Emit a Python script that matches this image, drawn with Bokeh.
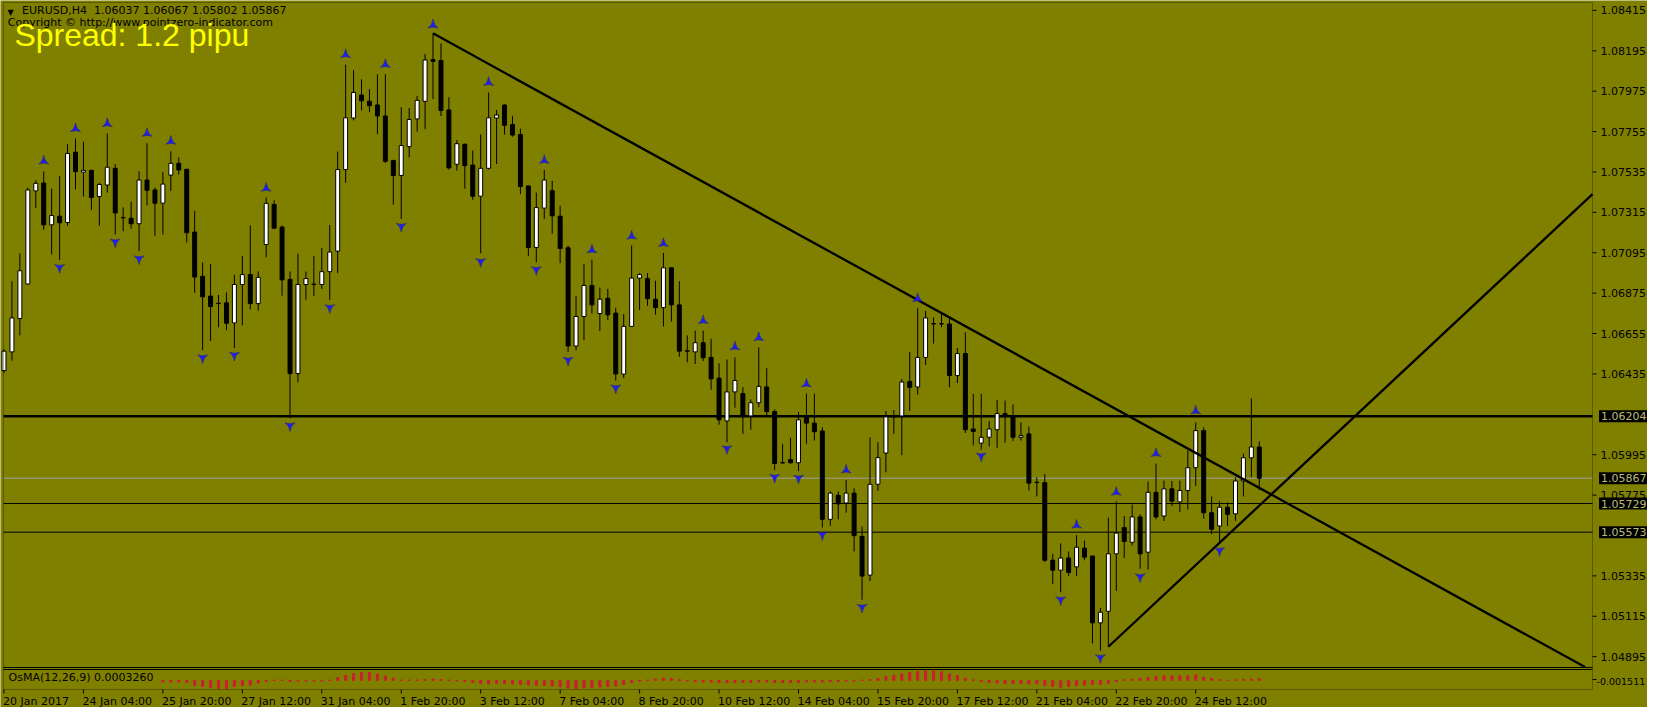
from bokeh.plotting import figure
from bokeh.models import (Range1d, Label, LabelSet, ColumnDataSource, BoxAnnotation)
from bokeh.embed import file_html
from bokeh.resources import INLINE
from bokeh.core.properties import value

# ---------------- data ----------------
opens = [1.06453, 1.06555, 1.06737, 1.06925, 1.07432, 1.07475, 1.07247, 1.07294, 1.07260, 1.07643,
         1.07534, 1.07544, 1.07401, 1.07464, 1.07555, 1.07287, 1.07283, 1.07253, 1.07491, 1.07437,
         1.07365, 1.07518, 1.07582, 1.07550, 1.07208, 1.06967, 1.06859, 1.06820, 1.06822, 1.06713,
         1.06922, 1.06976, 1.06818, 1.07140, 1.07358, 1.07235, 1.06950, 1.06437, 1.06922, 1.06924,
         1.06922, 1.06992, 1.07104, 1.07548, 1.07829, 1.07954, 1.07920, 1.07900, 1.07840, 1.07598,
         1.07516, 1.07673, 1.07824, 1.07920, 1.08147, 1.08142, 1.07873, 1.07577, 1.07686, 1.07573,
         1.07403, 1.07555, 1.07829, 1.07900, 1.07793, 1.07739, 1.07459, 1.07124, 1.07338, 1.07433,
         1.07294, 1.07122, 1.06587, 1.06748, 1.06917, 1.06764, 1.06847, 1.06766, 1.06434, 1.06694,
         1.06957, 1.06954, 1.06842, 1.06796, 1.07013, 1.06811, 1.06561, 1.06555, 1.06605, 1.06525,
         1.06412, 1.06179, 1.06337, 1.06328, 1.06206, 1.06278, 1.06364, 1.06230, 1.05950, 1.05968,
         1.05951, 1.06198, 1.06167, 1.06124, 1.05643, 1.05774, 1.05732, 1.05786, 1.05550, 1.05339,
         1.05834, 1.06004, 1.06203, 1.06206, 1.06394, 1.06364, 1.06525, 1.06709, 1.06707, 1.06707,
         1.06426, 1.06546, 1.06135, 1.06058, 1.06090, 1.06131, 1.06219, 1.06206, 1.06090, 1.06108,
         1.05845, 1.05843, 1.05420, 1.05366, 1.05432, 1.05384, 1.05486, 1.05443, 1.05079, 1.05142,
         1.05455, 1.05598, 1.05518, 1.05656, 1.05464, 1.05790, 1.05661, 1.05809, 1.05738, 1.05800,
         1.05924, 1.06126, 1.05679, 1.05607, 1.05709, 1.05673, 1.05852, 1.05978, 1.06037]
highs = [1.06569, 1.06940, 1.07092, 1.07450, 1.07489, 1.07539, 1.07444, 1.07512, 1.07686, 1.07718,
         1.07700, 1.07546, 1.07476, 1.07745, 1.07578, 1.07342, 1.07374, 1.07539, 1.07691, 1.07450,
         1.07534, 1.07648, 1.07614, 1.07551, 1.07324, 1.07042, 1.07035, 1.06865, 1.06879, 1.06976,
         1.07078, 1.07244, 1.06993, 1.07396, 1.07381, 1.07244, 1.06993, 1.07090, 1.06993, 1.07078,
         1.07122, 1.07246, 1.07646, 1.08120, 1.08090, 1.08040, 1.07986, 1.08067, 1.08067, 1.07598,
         1.07888, 1.07884, 1.07949, 1.08178, 1.08290, 1.08235, 1.07942, 1.07709, 1.07690, 1.07652,
         1.07739, 1.07968, 1.07873, 1.07902, 1.07841, 1.07771, 1.07460, 1.07423, 1.07546, 1.07487,
         1.07351, 1.07133, 1.06859, 1.07033, 1.07058, 1.06905, 1.06898, 1.06796, 1.06761, 1.07134,
         1.06984, 1.06984, 1.06943, 1.07094, 1.07015, 1.06940, 1.06645, 1.06671, 1.06671, 1.06627,
         1.06493, 1.06514, 1.06525, 1.06364, 1.06296, 1.06579, 1.06466, 1.06242, 1.06054, 1.06087,
         1.06228, 1.06328, 1.06328, 1.06144, 1.05795, 1.05795, 1.05857, 1.05813, 1.05604, 1.06090,
         1.06063, 1.06233, 1.06238, 1.06408, 1.06555, 1.06793, 1.06779, 1.06743, 1.06761, 1.06740,
         1.06576, 1.06662, 1.06326, 1.06326, 1.06179, 1.06292, 1.06290, 1.06269, 1.06171, 1.06149,
         1.05872, 1.05890, 1.05455, 1.05512, 1.05468, 1.05557, 1.05527, 1.05445, 1.05160, 1.05652,
         1.05742, 1.05661, 1.05723, 1.05670, 1.05849, 1.05947, 1.05854, 1.05852, 1.05854, 1.06018,
         1.06171, 1.06144, 1.05768, 1.05742, 1.05736, 1.05872, 1.06001, 1.06301, 1.06067]
lows = [1.06441, 1.06507, 1.06645, 1.06921, 1.07338, 1.07220, 1.07086, 1.07056, 1.07242, 1.07440,
        1.07401, 1.07328, 1.07242, 1.07423, 1.07194, 1.07212, 1.07226, 1.07104, 1.07353, 1.07187,
        1.07194, 1.07432, 1.07521, 1.07151, 1.06877, 1.06564, 1.06614, 1.06689, 1.06673, 1.06576,
        1.06700, 1.06786, 1.06779, 1.07070, 1.07226, 1.06861, 1.06194, 1.06389, 1.06839, 1.06859,
        1.06898, 1.06838, 1.06984, 1.07476, 1.07816, 1.07870, 1.07861, 1.07741, 1.07584, 1.07357,
        1.07279, 1.07614, 1.07754, 1.07768, 1.07932, 1.07840, 1.07548, 1.07542, 1.07444, 1.07383,
        1.07092, 1.07548, 1.07578, 1.07739, 1.07727, 1.07414, 1.07078, 1.07043, 1.07279, 1.07199,
        1.07038, 1.06555, 1.06564, 1.06618, 1.06764, 1.06668, 1.06729, 1.06398, 1.06412, 1.06690,
        1.06783, 1.06806, 1.06757, 1.06693, 1.06720, 1.06528, 1.06498, 1.06489, 1.06505, 1.06349,
        1.06158, 1.06063, 1.06251, 1.06108, 1.06131, 1.06254, 1.06206, 1.05911, 1.05947, 1.05947,
        1.05906, 1.06054, 1.06072, 1.05598, 1.05607, 1.05643, 1.05679, 1.05468, 1.05205, 1.05307,
        1.05798, 1.05899, 1.06108, 1.05992, 1.06233, 1.06322, 1.06484, 1.06600, 1.06689, 1.06362,
        1.06385, 1.06113, 1.06045, 1.06022, 1.06040, 1.06033, 1.06060, 1.06069, 1.06072, 1.05800,
        1.05768, 1.05410, 1.05291, 1.05246, 1.05334, 1.05335, 1.05420, 1.04967, 1.04927, 1.04949,
        1.05253, 1.05432, 1.05500, 1.05374, 1.05369, 1.05643, 1.05634, 1.05715, 1.05682, 1.05696,
        1.05825, 1.05647, 1.05562, 1.05518, 1.05607, 1.05634, 1.05768, 1.05872, 1.05802]
closes = [1.06559, 1.06740, 1.06997, 1.07437, 1.07473, 1.07247, 1.07298, 1.07258, 1.07636, 1.07537,
          1.07544, 1.07396, 1.07467, 1.07561, 1.07312, 1.07285, 1.07253, 1.07491, 1.07435, 1.07365,
          1.07469, 1.07582, 1.07546, 1.07204, 1.06963, 1.06855, 1.06802, 1.06818, 1.06711, 1.06922,
          1.06976, 1.06818, 1.06961, 1.07364, 1.07229, 1.06947, 1.06437, 1.06922, 1.06954, 1.06922,
          1.06992, 1.07099, 1.07548, 1.07830, 1.07968, 1.07923, 1.07896, 1.07840, 1.07593, 1.07516,
          1.07679, 1.07821, 1.07925, 1.08145, 1.08138, 1.07870, 1.07557, 1.07689, 1.07569, 1.07403,
          1.07555, 1.07830, 1.07845, 1.07789, 1.07736, 1.07456, 1.07124, 1.07341, 1.07491, 1.07296,
          1.07118, 1.06587, 1.06748, 1.06917, 1.06811, 1.06842, 1.06757, 1.06435, 1.06694, 1.06957,
          1.06976, 1.06845, 1.06796, 1.07013, 1.06811, 1.06559, 1.06559, 1.06605, 1.06523, 1.06408,
          1.06185, 1.06337, 1.06399, 1.06206, 1.06278, 1.06367, 1.06230, 1.05947, 1.05952, 1.05951,
          1.06185, 1.06167, 1.06120, 1.05643, 1.05786, 1.05727, 1.05786, 1.05554, 1.05334, 1.05834,
          1.05979, 1.06201, 1.06201, 1.06391, 1.06362, 1.06525, 1.06740, 1.06707, 1.06709, 1.06426,
          1.06546, 1.06131, 1.06122, 1.06090, 1.06135, 1.06219, 1.06206, 1.06090, 1.06099, 1.05840,
          1.05843, 1.05420, 1.05366, 1.05432, 1.05353, 1.05491, 1.05437, 1.05079, 1.05137, 1.05455,
          1.05568, 1.05522, 1.05656, 1.05455, 1.05790, 1.05656, 1.05809, 1.05742, 1.05800, 1.05924,
          1.06126, 1.05679, 1.05589, 1.05709, 1.05670, 1.05852, 1.05978, 1.06037, 1.05867]
bar_index = list(range(len(opens)))

# OsMA(12,26,9) histogram, bars 20..158
osma_start = 20
osma = [-0.000285, -0.000285, -0.000285, -0.00038, -0.00095, -0.00114, -0.00133, -0.00152, -0.00152, -0.00114,
        -0.00095, -0.000855, -0.000475, -0.00019, 0.000095, 0.000095, -0.00019, -0.000095, -0.000095, -0.000095,
        -0.000095, 0.000095, 0.00057, 0.00095, 0.00133, 0.00152, 0.00152, 0.001235, 0.000855, 0.000475,
        0.000095, 0.000095, 0.000095, 0.00019, 0.000285, 0.00019, 0.000095, -0.000095, -0.00019, -0.00038,
        -0.00057, -0.000665, -0.00057, -0.00057, -0.000665, -0.00076, -0.000855, -0.00095, -0.00095, -0.001045,
        -0.001235, -0.001425, -0.00152, -0.001425, -0.00133, -0.001235, -0.00114, -0.001045, -0.00076, -0.00038,
        -0.000095, 0.000095, 0.000285, 0.000475, 0.00038, 0.00019, -0.000095, -0.00019, -0.000285, -0.000285,
        -0.00038, -0.00038, -0.00038, -0.00038, -0.00038, -0.000285, -0.000285, -0.00038, -0.00038, -0.00038,
        -0.00038, -0.000285, -0.000285, -0.000285, -0.00019, -0.00019, -0.000095, -0.000095, 0.000095, 0.00019,
        0.00038, 0.00076, 0.001, 0.00127, 0.00152, 0.00171, 0.00184, 0.00184, 0.00165, 0.00127,
        0.00095, 0.00044, 0.00013, -0.00019, -0.00038, -0.000475, -0.00057, -0.00057, -0.00057, -0.000665,
        -0.00063, -0.00095, -0.00114, -0.00127, -0.00114, -0.001, -0.00089, -0.00076, -0.00076, -0.00051,
        -0.00019, 0.00013, 0.00025, 0.00044, 0.00057, 0.00076, 0.00089, 0.00089, 0.00089, 0.00089,
        0.00108, 0.00063, 0.00038, 0.00019, 0.00006, 0.00013, 0.00025, 0.00025, 0.000326]

# Fractal arrows (bar index, arrow price)
up_fractal_idx = [5, 9, 13, 18, 21, 33, 43, 48, 54, 61, 68, 74, 79, 83, 88, 92, 95, 101, 106, 115,
                  135, 140, 145, 150]
up_fractal_y = [1.07594, 1.07771, 1.07798, 1.07745, 1.07702, 1.07446, 1.08174, 1.08120, 1.08335, 1.08022,
                1.07598, 1.07110, 1.07185, 1.07145, 1.06725, 1.06582, 1.06632, 1.06380, 1.05911, 1.06845,
                1.05611, 1.05790, 1.06001, 1.06233]
down_fractal_idx = [7, 14, 17, 25, 29, 36, 41, 50, 60, 67, 71, 77, 91, 97, 100, 103, 108, 123, 133, 138,
                    143, 153]
down_fractal_y = [1.07015, 1.07154, 1.07062, 1.06523, 1.06537, 1.06153, 1.06796, 1.07239, 1.07047, 1.07003,
                  1.06510, 1.06359, 1.06028, 1.05872, 1.05867, 1.05559, 1.05164, 1.05988, 1.05205, 1.04890,
                  1.05330, 1.05473]

# Trend lines (bar index, price)
trend_down_x = [54, 199]
trend_down_y = [1.08290, 1.04838]
trend_up_x = [139, 199.94]
trend_up_y = [1.04949, 1.07414]

# Horizontal price levels
level_prices = [1.06204, 1.05867, 1.05729, 1.05573]
level_labels = ["1.06204", "1.05867", "1.05729", "1.05573"]
level_colors = ["black", "#a0a0a0", "black", "black"]
level_widths = [2.5, 1, 1, 1]

price_ticks = [1.04895, 1.05115, 1.05335, 1.05775, 1.05995, 1.06435, 1.06655, 1.06875,
               1.07095, 1.07315, 1.07535, 1.07755, 1.07975, 1.08195, 1.08415]
price_tick_labels = ["1.04895", "1.05115", "1.05335", "1.05775", "1.05995", "1.06435", "1.06655",
                     "1.06875", "1.07095", "1.07315", "1.07535", "1.07755", "1.07975", "1.08195",
                     "1.08415"]
date_tick_idx = [0, 10, 20, 30, 40, 50, 60, 70, 80, 90, 100, 110, 120, 130, 140, 150]
date_tick_labels = ["20 Jan 2017", "24 Jan 04:00", "25 Jan 20:00", "27 Jan 12:00", "31 Jan 04:00",
                    "1 Feb 20:00", "3 Feb 12:00", "7 Feb 04:00", "8 Feb 20:00", "10 Feb 12:00",
                    "14 Feb 04:00", "15 Feb 20:00", "17 Feb 12:00", "21 Feb 04:00", "22 Feb 20:00",
                    "24 Feb 12:00"]

# ---------------- layout / styling ----------------
OLIVE = "#808000"
RED = "#c8202e"
ARROW = "#1c1cff"
FONT = "DejaVu Sans"
W, H = 1647, 707
# pane edges: bar-index units horizontally, price units vertically
X_L, X_R = -0.0625, 199.94
Y_T, Y_MB, Y_OT, Y_OB = 1.08458, 1.04836, 1.04825, 1.04716
TICK_X = 0.5          # 4 px in bar units
TICK_Y = 0.000218     # 4 px in price units

p = figure(width=W, height=H, output_backend="svg", toolbar_location=None,
           x_range=Range1d(-0.4401, 206.86), y_range=Range1d(1.04618, 1.08469),
           x_axis_location=None, y_axis_location=None,
           min_border_left=0, min_border_top=0, min_border_right=0, min_border_bottom=0,
           background_fill_color=OLIVE, border_fill_color=OLIVE, outline_line_color=None)
p.grid.visible = False
p.extra_y_ranges = {"osma": Range1d(-0.00513, 0.1292)}

# window borders
p.add_layout(BoxAnnotation(left=X_L, right=X_R, top=Y_T, bottom=Y_OB, fill_alpha=0,
                           line_color="black", line_width=1, level="overlay"))
p.segment(x0=[X_L, X_L], x1=[X_R, X_R], y0=[Y_MB, Y_OT], y1=[Y_MB, Y_OT],
          line_color="black", line_width=1)

# axis ticks
p.segment(x0=X_R, x1=X_R + TICK_X, y0=price_ticks, y1=price_ticks, line_color="black", line_width=1)
p.segment(x0=X_R, x1=X_R + TICK_X, y0=[(Y_OT + Y_OB) / 2], y1=[(Y_OT + Y_OB) / 2],
          line_color="black", line_width=1)
p.segment(x0=date_tick_idx, x1=date_tick_idx, y0=Y_OB, y1=Y_OB - TICK_Y, line_color="black", line_width=1)

# horizontal levels
lvl = ColumnDataSource(dict(y=level_prices, c=level_colors, w=level_widths))
p.segment(x0=X_L, x1=X_R, y0="y", y1="y", line_color="c", line_width="w", source=lvl)

# candles
src = ColumnDataSource(dict(
    x=bar_index, o=opens, h=highs, l=lows, c=closes,
    top=[max(o, c) for o, c in zip(opens, closes)],
    bottom=[min(o, c) for o, c in zip(opens, closes)],
    fill=["white" if c >= o else "black" for o, c in zip(opens, closes)],
))
p.segment(x0="x", y0="l", x1="x", y1="h", source=src, line_color="black", line_width=1)
p.vbar(x="x", width=0.5, top="top", bottom="bottom", source=src,
       fill_color="fill", line_color="black", line_width=1)

# trend lines
p.line(trend_down_x, trend_down_y, line_color="black", line_width=2.3)
p.line(trend_up_x, trend_up_y, line_color="black", line_width=2.3)

# fractals
p.scatter(up_fractal_idx, up_fractal_y, marker="triangle_pin", size=10,
          fill_color=ARROW, line_color="#202080", line_width=0.6)
p.scatter(down_fractal_idx, down_fractal_y, marker="triangle_pin", size=10, angle=3.14159,
          fill_color=ARROW, line_color="#202080", line_width=0.6)

# OsMA histogram
osma_x = bar_index[osma_start:]
p.vbar(x=osma_x, top=osma, bottom=0, width=0.27, fill_color=RED, line_color=RED,
       line_width=1, y_range_name="osma")

# price axis labels
tick_src = ColumnDataSource(dict(y=price_ticks, text=price_tick_labels))
p.add_layout(LabelSet(x=1600, x_units="screen", y="y", text="text", source=tick_src,
                      text_font=value(FONT), text_font_size=value("11px"), text_color="black",
                      text_align="left", text_baseline="middle"))

# level price boxes on the axis
for lp, lt in zip(level_prices, level_labels):
    p.add_layout(Label(x=1598.5, x_units="screen", y=lp, y_units="data", text=lt,
                       text_font=FONT, text_font_size="11px", text_color="#bcbc78",
                       text_baseline="middle", background_fill_color="black", padding=2))

# OsMA axis value
p.add_layout(Label(x=1596, x_units="screen", y=25.6, y_units="screen", text="-0.001511",
                   text_font=FONT, text_font_size="9.5px", text_color="black",
                   text_baseline="middle"))

# date labels
date_src = ColumnDataSource(dict(x=date_tick_idx, text=date_tick_labels))
p.add_layout(LabelSet(x="x", y=2.5, y_units="screen", text="text", source=date_src, x_offset=-1,
                      text_font=value(FONT), text_font_size=value("11px"), text_color="black",
                      text_align="left", text_baseline="alphabetic"))

# header texts
p.add_layout(Label(x=7, y=H - 12.3, x_units="screen", y_units="screen", text="\u25bc",
                   text_font=FONT, text_font_size="8px", text_color="black",
                   text_baseline="middle"))
p.add_layout(Label(x=21.6, y=H - 16.5, x_units="screen", y_units="screen",
                   text="EURUSD,H4\u00a0 1.06037 1.06067 1.05802 1.05867",
                   text_font=FONT, text_font_size="11px", text_color="black"))
p.add_layout(Label(x=7.3, y=H - 28.9, x_units="screen", y_units="screen",
                   text="Copyright \u00a9 http://www.pointzero-indicator.com",
                   text_font=FONT, text_font_size="11px", text_color="black"))
p.add_layout(Label(x=13.9, y=H - 52.5, x_units="screen", y_units="screen",
                   text="Spread: 1.2 pipu", text_font="Liberation Sans",
                   text_font_size="32px", text_color="#ffff00"))
p.add_layout(Label(x=8, y=23.3, x_units="screen", y_units="screen",
                   text="OsMA(12,26,9) 0.0003260", text_font=FONT, text_font_size="11px",
                   text_color="black"))

open("out.html", "w").write(file_html(p, INLINE))
